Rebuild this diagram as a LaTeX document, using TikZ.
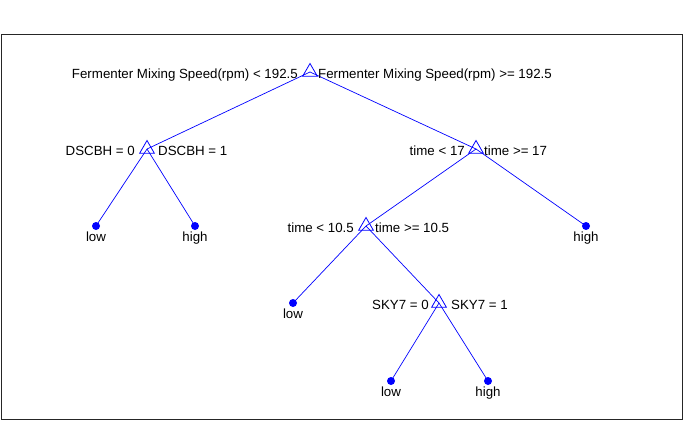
\documentclass[tikz,border=0pt]{standalone}
\usepackage{fontspec}
\setmainfont{Liberation Sans}
\usetikzlibrary{shapes.geometric}
\definecolor{mblue}{RGB}{0,0,255}
\tikzset{
  split/.style={regular polygon, regular polygon sides=3, draw=mblue, line width=0.8pt, minimum size=17pt, inner sep=0pt},
  leaf/.style={circle, fill=mblue, minimum size=8pt, inner sep=0pt},
  edge/.style={mblue, line width=0.7pt},
  lbl/.style={font=\fontsize{13.3}{15}\selectfont, inner sep=0pt, text=black},
}
\begin{document}
\begin{tikzpicture}[x=1pt,y=-1pt]
\useasboundingbox (0,0) rectangle (684,420);
\fill[white] (0,0) rectangle (684,420);
\draw[black!85, line width=0.8pt] (1,34) rectangle (682,419);
% nodes
\node[split] (root) at (310,72) {};
\node[split] (a) at (147,149) {};
\node[split] (b) at (476,149) {};
\node[split] (c) at (366,226) {};
\node[split] (d) at (439,303) {};
\node[leaf] (l1) at (96,226) {};
\node[leaf] (h1) at (195,226) {};
\node[leaf] (h2) at (586,226) {};
\node[leaf] (l2) at (293,303) {};
\node[leaf] (l3) at (391,381) {};
\node[leaf] (h3) at (488,381) {};
% edges
\draw[edge] (root.center) -- (a.center);
\draw[edge] (root.center) -- (b.center);
\draw[edge] (a.center) -- (l1.center);
\draw[edge] (a.center) -- (h1.center);
\draw[edge] (b.center) -- (c.center);
\draw[edge] (b.center) -- (h2.center);
\draw[edge] (c.center) -- (l2.center);
\draw[edge] (c.center) -- (d.center);
\draw[edge] (d.center) -- (l3.center);
\draw[edge] (d.center) -- (h3.center);
% split labels
\node[lbl, anchor=base east] (rootL) at (298,78) {Fermenter Mixing Speed(rpm) < 192.5};
\node[lbl, anchor=base west] (rootR) at (318,78) {Fermenter Mixing Speed(rpm) >= 192.5};
\node[lbl, anchor=base east] (aL) at (135,155) {DSCBH = 0};
\node[lbl, anchor=base west] (aR) at (158,155) {DSCBH = 1};
\node[lbl, anchor=base east] (bL) at (465,155) {time < 17};
\node[lbl, anchor=base west] (bR) at (484,155) {time >= 17};
\node[lbl, anchor=base east] (cL) at (354,232) {time < 10.5};
\node[lbl, anchor=base west] (cR) at (375,232) {time >= 10.5};
\node[lbl, anchor=base east] (dL) at (429,309) {SKY7 = 0};
\node[lbl, anchor=base west] (dR) at (451,309) {SKY7 = 1};
% leaf labels
\node[lbl, anchor=base] (l1t) at (l1 |- 0,241) {low};
\node[lbl, anchor=base] (h1t) at (h1 |- 0,241) {high};
\node[lbl, anchor=base] (h2t) at (h2 |- 0,241) {high};
\node[lbl, anchor=base] (l2t) at (l2 |- 0,318) {low};
\node[lbl, anchor=base] (l3t) at (l3 |- 0,396) {low};
\node[lbl, anchor=base] (h3t) at (h3 |- 0,396) {high};
\end{tikzpicture}
\end{document}
